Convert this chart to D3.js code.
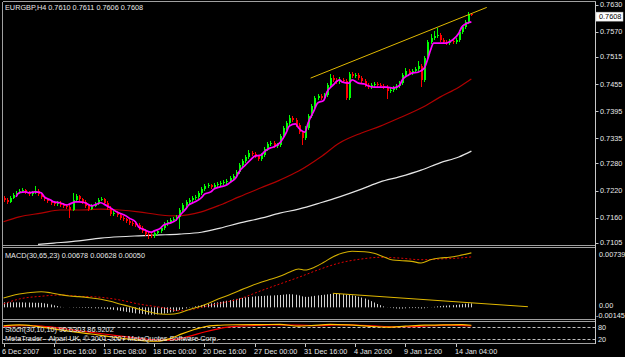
<!DOCTYPE html>
<html>
<head>
<meta charset="utf-8">
<script src="https://cdn.jsdelivr.net/npm/d3@7/dist/d3.min.js"></script>
<style>
body { margin:0; background:#000; }
svg { display:block; }
text { font-family:"Liberation Sans", Arial, sans-serif; font-size:7.3px; fill:#e8e8e8; }
</style>
</head>
<body>
<svg width="625" height="357"></svg>
<script>
// EURGBP H4 bars
var opens = [
0.7203,0.7199,0.7195,0.7204,0.7210,0.7215,0.7219,0.7221,0.7217,0.7212,
0.7215,0.7219,0.7212,0.7206,0.7201,0.7197,0.7193,0.7190,0.7193,0.7188,
0.7186,0.7184,0.7177,0.7199,0.7208,0.7201,0.7195,0.7186,0.7179,0.7186,
0.7190,0.7199,0.7201,0.7193,0.7182,0.7168,0.7170,0.7166,0.7159,0.7157,
0.7153,0.7148,0.7146,0.7144,0.7137,0.7131,0.7124,0.7122,0.7120,0.7126,
0.7131,0.7137,0.7146,0.7151,0.7155,0.7157,0.7162,0.7177,0.7188,0.7195,
0.7199,0.7204,0.7206,0.7215,0.7223,0.7230,0.7232,0.7228,0.7232,0.7234,
0.7236,0.7239,0.7241,0.7248,0.7252,0.7261,0.7276,0.7285,0.7294,0.7303,
0.7301,0.7296,0.7290,0.7298,0.7312,0.7323,0.7325,0.7318,0.7320,0.7340,
0.7358,0.7369,0.7380,0.7376,0.7365,0.7349,0.7336,0.7358,0.7384,0.7407,
0.7424,0.7429,0.7424,0.7431,0.7453,0.7468,0.7464,0.7459,0.7464,0.7462,
0.7424,0.7477,0.7473,0.7475,0.7468,0.7462,0.7453,0.7448,0.7453,0.7455,
0.7453,0.7451,0.7448,0.7440,0.7442,0.7446,0.7451,0.7457,0.7475,0.7484,
0.7479,0.7484,0.7488,0.7495,0.7464,0.7512,0.7548,0.7556,0.7561,0.7563,
0.7552,0.7548,0.7545,0.7550,0.7548,0.7552,0.7570,0.7581,0.7592,0.7610];
var highs = [
0.7207,0.7203,0.7208,0.7214,0.7219,0.7224,0.7226,0.7224,0.7220,0.7219,
0.7230,0.7223,0.7215,0.7209,0.7204,0.7200,0.7197,0.7197,0.7196,0.7192,
0.7190,0.7188,0.7215,0.7213,0.7211,0.7204,0.7198,0.7189,0.7190,0.7194,
0.7203,0.7206,0.7204,0.7196,0.7185,0.7175,0.7174,0.7169,0.7163,0.7160,
0.7157,0.7152,0.7150,0.7148,0.7141,0.7134,0.7128,0.7126,0.7130,0.7136,
0.7141,0.7150,0.7156,0.7159,0.7162,0.7166,0.7181,0.7192,0.7199,0.7204,
0.7208,0.7211,0.7219,0.7227,0.7234,0.7237,0.7235,0.7236,0.7239,0.7241,
0.7244,0.7246,0.7252,0.7257,0.7265,0.7280,0.7289,0.7298,0.7310,0.7308,
0.7304,0.7299,0.7302,0.7316,0.7327,0.7330,0.7329,0.7325,0.7344,0.7362,
0.7374,0.7386,0.7384,0.7379,0.7368,0.7352,0.7362,0.7388,0.7411,0.7428,
0.7434,0.7433,0.7436,0.7457,0.7478,0.7474,0.7468,0.7470,0.7468,0.7466,
0.7482,0.7481,0.7480,0.7479,0.7472,0.7465,0.7457,0.7458,0.7460,0.7459,
0.7457,0.7455,0.7452,0.7447,0.7451,0.7455,0.7462,0.7480,0.7490,0.7488,
0.7489,0.7493,0.7506,0.7499,0.7517,0.7553,0.7566,0.7573,0.7578,0.7567,
0.7557,0.7552,0.7555,0.7554,0.7557,0.7575,0.7586,0.7597,0.7614,0.7611];
var lows = [
0.7195,0.7190,0.7192,0.7201,0.7207,0.7212,0.7215,0.7213,0.7208,0.7209,
0.7212,0.7208,0.7202,0.7197,0.7193,0.7188,0.7186,0.7186,0.7184,0.7181,
0.7179,0.7159,0.7175,0.7195,0.7197,0.7191,0.7182,0.7175,0.7176,0.7183,
0.7187,0.7196,0.7189,0.7177,0.7163,0.7164,0.7161,0.7155,0.7152,0.7149,
0.7143,0.7141,0.7139,0.7133,0.7127,0.7119,0.7113,0.7116,0.7116,0.7122,
0.7127,0.7133,0.7142,0.7147,0.7151,0.7153,0.7135,0.7173,0.7184,0.7191,
0.7195,0.7200,0.7202,0.7211,0.7219,0.7226,0.7223,0.7224,0.7228,0.7230,
0.7232,0.7235,0.7237,0.7244,0.7248,0.7257,0.7272,0.7281,0.7290,0.7296,
0.7291,0.7285,0.7286,0.7294,0.7308,0.7319,0.7314,0.7314,0.7316,0.7336,
0.7354,0.7365,0.7371,0.7360,0.7344,0.7320,0.7332,0.7354,0.7380,0.7403,
0.7419,0.7419,0.7420,0.7427,0.7449,0.7459,0.7454,0.7455,0.7457,0.7420,
0.7420,0.7468,0.7469,0.7464,0.7457,0.7449,0.7443,0.7444,0.7449,0.7448,
0.7446,0.7443,0.7421,0.7435,0.7438,0.7442,0.7447,0.7453,0.7471,0.7474,
0.7475,0.7480,0.7484,0.7448,0.7460,0.7508,0.7543,0.7551,0.7556,0.7547,
0.7543,0.7540,0.7541,0.7543,0.7544,0.7548,0.7566,0.7577,0.7588,0.7606];
var closes = [
0.7199,0.7195,0.7204,0.7210,0.7215,0.7219,0.7221,0.7217,0.7212,0.7215,
0.7219,0.7212,0.7206,0.7201,0.7197,0.7193,0.7190,0.7193,0.7188,0.7186,
0.7184,0.7177,0.7199,0.7208,0.7201,0.7195,0.7186,0.7179,0.7186,0.7190,
0.7199,0.7201,0.7193,0.7182,0.7168,0.7170,0.7166,0.7159,0.7157,0.7153,
0.7148,0.7146,0.7144,0.7137,0.7131,0.7124,0.7122,0.7120,0.7126,0.7131,
0.7137,0.7146,0.7151,0.7155,0.7157,0.7162,0.7177,0.7188,0.7195,0.7199,
0.7204,0.7206,0.7215,0.7223,0.7230,0.7232,0.7228,0.7232,0.7234,0.7236,
0.7239,0.7241,0.7248,0.7252,0.7261,0.7276,0.7285,0.7294,0.7303,0.7301,
0.7296,0.7290,0.7298,0.7312,0.7323,0.7325,0.7318,0.7320,0.7340,0.7358,
0.7369,0.7380,0.7376,0.7365,0.7349,0.7336,0.7358,0.7384,0.7407,0.7424,
0.7429,0.7424,0.7431,0.7453,0.7468,0.7464,0.7459,0.7464,0.7462,0.7424,
0.7477,0.7473,0.7475,0.7468,0.7462,0.7453,0.7448,0.7453,0.7455,0.7453,
0.7451,0.7448,0.7440,0.7442,0.7446,0.7451,0.7457,0.7475,0.7484,0.7479,
0.7484,0.7488,0.7495,0.7464,0.7512,0.7548,0.7556,0.7561,0.7563,0.7552,
0.7548,0.7545,0.7550,0.7548,0.7552,0.7570,0.7581,0.7592,0.7610,0.7608];

// moving averages as [bar, price] readings
var fastMA = [[4,0.7206],[5,0.7215],[7,0.7217],[8,0.7215],[10,0.7217],[12,0.7215],[13,0.7206],[15,0.7199],
[16,0.7195],[18,0.7193],[20,0.7188],[21,0.7190],[23,0.7195],[24,0.7195],[26,0.7193],[28,0.7186],[29,0.7188],
[31,0.7193],[32,0.7190],[34,0.7182],[36,0.7173],[37,0.7170],[39,0.7164],[40,0.7159],[42,0.7151],[43,0.7140],
[45,0.7133],[47,0.7128],[48,0.7131],[50,0.7137],[51,0.7144],[53,0.7148],[55,0.7155],[56,0.7164],[58,0.7179],
[59,0.7188],[61,0.7195],[63,0.7204],[64,0.7212],[66,0.7217],[67,0.7223],[69,0.7228],[71,0.7232],[72,0.7237],
[74,0.7248],[75,0.7261],[77,0.7276],[79,0.7290],[80,0.7296],[82,0.7298],[83,0.7305],[85,0.7314],[86,0.7316],
[88,0.7325],[90,0.7347],[91,0.7362],[93,0.7367],[94,0.7358],[96,0.7349],[97,0.7369],[99,0.7398],[100,0.7413],
[102,0.7419],[103,0.7437],[105,0.7453],[107,0.7464],[108,0.7459],[110,0.7457],[111,0.7464],[113,0.7457],
[115,0.7455],[116,0.7451],[118,0.7448],[119,0.7448],[121,0.7448],[122,0.7448],[124,0.7446],[126,0.7451],
[127,0.7464],[129,0.7475],[130,0.7479],[132,0.7481],[134,0.7490],[135,0.7508],[136,0.7530],[137,0.7545],
[139,0.7545],[141,0.7545],[142,0.7548],[143,0.7552],[145,0.7567],[146,0.7581],[148,0.7590],[149,0.7592]];
var midMA = [[0,0.7151],[5,0.7162],[12,0.7170],[18,0.7177],[24,0.7177],[31,0.7179],[37,0.7177],[43,0.7173],
[50,0.7166],[55,0.7164],[63,0.7173],[69,0.7188],[75,0.7206],[82,0.7226],[88,0.7243],[94,0.7263],[101,0.7294],
[107,0.7325],[114,0.7347],[120,0.7362],[126,0.7380],[133,0.7402],[139,0.7426],[145,0.7448],[149,0.7466]];
var slowMA = [[11,0.7101],[16,0.7104],[24,0.7109],[31,0.7115],[37,0.7118],[43,0.7120],[50,0.7122],[56,0.7124],
[63,0.7128],[69,0.7137],[75,0.7148],[82,0.7159],[88,0.7170],[94,0.7179],[101,0.7193],[107,0.7206],[114,0.7223],
[120,0.7239],[126,0.7250],[133,0.7265],[139,0.7281],[145,0.7294],[149,0.7307]];
var priceTrend = [[97.8,0.7468],[153.9,0.7624]];

// MACD(30,65,23)
var macdLine = [[0,0.00116],[2,0.00138],[5,0.00166],[8,0.00182],[12,0.00195],[15,0.00182],[18,0.00158],
[21,0.00141],[24,0.00133],[28,0.00116],[31,0.00100],[34,0.00075],[37,0.00042],[40,0.00013],[43,-0.00020],
[47,-0.00062],[50,-0.00083],[53,-0.00086],[56,-0.00070],[59,-0.00029],[63,0.00017],[66,0.00063],[69,0.00113],
[72,0.00158],[75,0.00207],[79,0.00270],[82,0.00312],[85,0.00349],[88,0.00387],[91,0.00436],[94,0.00478],
[96,0.00465],[99,0.00499],[102,0.00561],[105,0.00631],[108,0.00677],[111,0.00698],[115,0.00693],[118,0.00673],
[121,0.00631],[124,0.00590],[127,0.00581],[130,0.00573],[133,0.00552],[136,0.00593],[139,0.00614],[142,0.00623],
[145,0.00643],[149,0.00678]];
var signalLine = [[0,0.00042],[5,0.00104],[12,0.00138],[18,0.00154],[24,0.00138],[31,0.00125],[37,0.00092],
[43,0.00042],[50,0.00001],[56,-0.00042],[59,-0.00033],[63,0.00001],[69,0.00051],[75,0.00104],[82,0.00207],
[88,0.00291],[94,0.00374],[101,0.00478],[107,0.00552],[114,0.00602],[120,0.00623],[126,0.00614],[133,0.00593],
[139,0.00602],[145,0.00614],[149,0.00628]];
var macdHist = [
0.00062,0.00062,0.00062,0.00062,0.00062,0.00062,0.00062,0.00060,0.00060,0.00059,
0.00057,0.00057,0.00056,0.00050,0.00044,0.00035,0.00025,0.00016,0.00007,0.00002,
0,-0.00002,-0.00004,-0.00004,-0.00005,-0.00006,-0.00007,-0.00009,-0.00010,-0.00011,
-0.00012,-0.00014,-0.00016,-0.00020,-0.00025,-0.00031,-0.00037,-0.00044,-0.00050,-0.00056,
-0.00062,-0.00068,-0.00075,-0.00078,-0.00082,-0.00087,-0.00090,-0.00091,-0.00090,-0.00087,
-0.00082,-0.00077,-0.00070,-0.00062,-0.00054,-0.00044,-0.00032,-0.00022,-0.00012,-0.00004,
0.00005,0.00012,0.00020,0.00027,0.00035,0.00042,0.00050,0.00056,0.00062,0.00068,
0.00075,0.00082,0.00090,0.00097,0.00105,0.00112,0.00118,0.00125,0.00129,0.00133,
0.00137,0.00139,0.00141,0.00143,0.00146,0.00147,0.00149,0.00152,0.00154,0.00158,
0.00162,0.00164,0.00162,0.00157,0.00149,0.00137,0.00131,0.00131,0.00137,0.00143,
0.00149,0.00153,0.00157,0.00162,0.00167,0.00169,0.00169,0.00167,0.00164,0.00159,
0.00157,0.00149,0.00142,0.00132,0.00122,0.00110,0.00095,0.00077,0.00060,0.00042,
0.00027,0.00012,0.00002,-0.00005,-0.00010,-0.00014,-0.00016,-0.00015,-0.00012,-0.00010,
-0.00009,-0.00009,-0.00011,-0.00014,-0.00011,-0.00005,0.00002,0.00007,0.00012,0.00016,
0.00020,0.00022,0.00025,0.00027,0.00031,0.00035,0.00040,0.00045,0.00049,0.00050];
var macdTrend = [[104.9,0.00175],[167.0,0.00008]];

// Stoch(30,10,10)
var stochMain = [[0,88],[5,92],[10,86],[16,72],[22,58],[28,46],[34,32],[40,20],[45,11],[49,9],[53,22],
[57,48],[61,70],[64,83],[68,90],[74,93],[82,94],[88,95],[94,86],[98,89],[104,95],[110,92],[116,86],[122,81],
[128,86],[134,91],[140,92],[146,94],[149,90.63]];
var stochSignal = [[0,84],[5,88],[10,88],[16,80],[22,67],[28,54],[34,42],[40,30],[46,19],[52,14],[56,22],
[60,38],[64,56],[68,71],[72,82],[78,88],[86,92],[94,91],[100,88],[106,92],[112,91],[118,87],[124,83],[130,84],
[136,88],[142,91],[149,86.92]];
var stochLevels = [80, 20];

var priceTicks = [0.7630,0.7570,0.7515,0.7455,0.7395,0.7335,0.7280,0.7220,0.7160,0.7105];
var timeTickBars = [0,16,32,48,64,80,96,112,128,144];
var timeLabels = ["6 Dec 2007","10 Dec 16:00","13 Dec 08:00","18 Dec 00:00","20 Dec 16:00",
  "27 Dec 00:00","31 Dec 16:00","4 Jan 20:00","9 Jan 12:00","14 Jan 04:00"];

var svg = d3.select("svg");
var axisX = 595.5, leftX = 2.5;

svg.append("rect").attr("width",625).attr("height",357).attr("fill","#000");

var x = d3.scaleLinear().domain([0,149]).range([3.5, 3.5+3.14*149]);
var yMain = d3.scaleLinear().domain([0.70998,0.76337]).range([245,3]);
var yMacd = d3.scaleLinear().domain([-0.00145,0.00739]).range([319,248]);
var yStoch = d3.scaleLinear().domain([0,100]).range([343,323.4]);

var defs = svg.append("defs");
defs.append("clipPath").attr("id","cMain").append("rect").attr("x",3).attr("y",2.5).attr("width",592).attr("height",242.5);
defs.append("clipPath").attr("id","cMacd").append("rect").attr("x",3).attr("y",248).attr("width",592).attr("height",71);
defs.append("clipPath").attr("id","cStoch").append("rect").attr("x",3).attr("y",322).attr("width",592).attr("height",21);

// frames
var frame = svg.append("g").style("stroke","#a0a0a0").style("stroke-width",1).style("shape-rendering","crispEdges");
[1.5,245.5,247.5,319.5,321.5,343.5].forEach(function(yy){
  frame.append("line").attr("x1",leftX).attr("x2",axisX).attr("y1",yy).attr("y2",yy);
});
frame.append("line").attr("x1",leftX).attr("x2",leftX).attr("y1",1.5).attr("y2",343.5);
frame.append("line").attr("x1",axisX).attr("x2",axisX).attr("y1",1.5).attr("y2",344).style("stroke","#c8c8c8");

// main panel
var gMain = svg.append("g").attr("clip-path","url(#cMain)");
var line = d3.line().curve(d3.curveMonotoneX)
  .x(function(d){ return x(d[0]); });

gMain.append("path").datum(slowMA)
  .attr("d", line.y(function(d){ return yMain(d[1]); }))
  .style("fill","none").style("stroke","#e4e4e4").style("stroke-width",1.2);
gMain.append("path").datum(midMA)
  .attr("d", line.y(function(d){ return yMain(d[1]); }))
  .style("fill","none").style("stroke","#b00000").style("stroke-width",1.2);

var bars = d3.range(closes.length).map(function(i){
  return {i:i, o:opens[i], h:highs[i], l:lows[i], c:closes[i]};
});
var candle = gMain.append("g").style("shape-rendering","crispEdges")
  .selectAll("g").data(bars).enter().append("g");
candle.append("rect")
  .attr("x", function(d){ return Math.round(x(d.i)); })
  .attr("width",1)
  .attr("y", function(d){ return yMain(d.h); })
  .attr("height", function(d){ return Math.max(1, yMain(d.l)-yMain(d.h)); })
  .style("fill", function(d){ return d.c >= d.o ? "#00ff00" : "#ff0000"; });
candle.append("rect")
  .attr("x", function(d){ return Math.round(x(d.i))-0.5; })
  .attr("width",2)
  .attr("y", function(d){ return yMain(Math.max(d.o,d.c)); })
  .attr("height", function(d){ return Math.max(1, Math.abs(yMain(d.o)-yMain(d.c))); })
  .style("fill", function(d){ return d.c >= d.o ? "#00ff00" : "#ff0000"; });

gMain.append("path").datum(fastMA)
  .attr("d", line.y(function(d){ return yMain(d[1]); }))
  .style("fill","none").style("stroke","#ff00ff").style("stroke-width",1.7);

gMain.append("line")
  .attr("x1",x(priceTrend[0][0])).attr("y1",yMain(priceTrend[0][1]))
  .attr("x2",x(priceTrend[1][0])).attr("y2",yMain(priceTrend[1][1]))
  .style("stroke","#e0b800").style("stroke-width",1);

svg.append("text").attr("x",5).attr("y",10).text("EURGBP,H4  0.7610 0.7611 0.7606 0.7608");

// price axis
var pa = svg.append("g");
pa.selectAll("line").data(priceTicks).enter().append("line")
  .attr("x1",axisX).attr("x2",axisX+3)
  .attr("y1",function(d){ return Math.round(yMain(d))+0.5; })
  .attr("y2",function(d){ return Math.round(yMain(d))+0.5; })
  .style("stroke","#c8c8c8");
pa.selectAll("text").data(priceTicks).enter().append("text")
  .attr("x",600).attr("y",function(d){ return yMain(d); }).attr("dy","0.35em")
  .text(function(d){ return d.toFixed(4); });

var last = closes[closes.length-1];
var by = yMain(last)+2;
svg.append("rect").attr("x",596).attr("y",by-4.5).attr("width",27).attr("height",9)
  .style("fill","#fff").style("stroke","#c8c8c8").style("stroke-width",0.5);
svg.append("text").attr("x",599).attr("y",by).attr("dy","0.35em").style("fill","#000").text(last.toFixed(4));

// MACD panel
var gMacd = svg.append("g").attr("clip-path","url(#cMacd)");
gMacd.append("g").selectAll("line").data(macdHist).enter().append("line")
  .attr("x1",function(d,i){ return Math.round(x(i))+0.5; })
  .attr("x2",function(d,i){ return Math.round(x(i))+0.5; })
  .attr("y1",yMacd(0))
  .attr("y2",function(d){ return yMacd(d); })
  .style("stroke","#d0d0d0").style("stroke-width",1);
gMacd.append("path").datum(signalLine)
  .attr("d", line.y(function(d){ return yMacd(d[1]); }))
  .style("fill","none").style("stroke","#e00000").style("stroke-width",1).style("stroke-dasharray","2,2");
gMacd.append("path").datum(macdLine)
  .attr("d", line.y(function(d){ return yMacd(d[1]); }))
  .style("fill","none").style("stroke","#d4b000").style("stroke-width",1.1);
gMacd.append("line")
  .attr("x1",x(macdTrend[0][0])).attr("y1",yMacd(macdTrend[0][1]))
  .attr("x2",x(macdTrend[1][0])).attr("y2",yMacd(macdTrend[1][1]))
  .style("stroke","#e0b800").style("stroke-width",1);

svg.append("text").attr("x",5).attr("y",258).text("MACD(30,65,23) 0.00678 0.00628 0.00050");
svg.append("text").attr("x",599).attr("y",yMacd(0.00739)+6.5).attr("dy","0.35em").text("0.00739");
svg.append("text").attr("x",599).attr("y",yMacd(0)-1.5).attr("dy","0.35em").text("0.00");
svg.append("text").attr("x",596).attr("y",yMacd(-0.00145)-4).attr("dy","0.35em").text("-0.00145");

// Stoch panel
var gSt = svg.append("g").attr("clip-path","url(#cStoch)");
gSt.selectAll("line").data(stochLevels).enter().append("line")
  .attr("x1",leftX).attr("x2",axisX)
  .attr("y1",function(d){ return Math.round(yStoch(d))+0.5; })
  .attr("y2",function(d){ return Math.round(yStoch(d))+0.5; })
  .style("stroke","#c0c0c0").style("stroke-dasharray","3,2");
svg.append("text").attr("x",5).attr("y",332).text("Stoch(30,10,10) 90.6303 86.9202");
svg.append("text").attr("x",5).attr("y",340.5).text("MetaTrader - Alpari UK, \u00a9 2001-2007 MetaQuotes Software Corp.");
gSt.append("path").datum(stochSignal)
  .attr("d", line.y(function(d){ return yStoch(d[1]); }))
  .style("fill","none").style("stroke","#ff0000").style("stroke-width",1.2);
gSt.append("path").datum(stochMain)
  .attr("d", line.y(function(d){ return yStoch(d[1]); }))
  .style("fill","none").style("stroke","#ffc000").style("stroke-width",1.2);
svg.selectAll(".lvl").data(stochLevels).enter().append("text")
  .attr("x",598).attr("y",function(d){ return yStoch(d); }).attr("dy","0.35em")
  .text(function(d){ return d; });

// time axis
var ta = svg.append("g");
ta.selectAll("line").data(timeTickBars).enter().append("line")
  .attr("x1",function(d){ return Math.round(x(d))+0.5; })
  .attr("x2",function(d){ return Math.round(x(d))+0.5; })
  .attr("y1",344).attr("y2",347)
  .style("stroke","#c8c8c8");
ta.selectAll("text").data(timeTickBars).enter().append("text")
  .attr("x",function(d,i){ return i === 0 ? 2 : Math.round(x(d))-1; })
  .attr("y",354)
  .text(function(d,i){ return timeLabels[i]; });
</script>
</body>
</html>
